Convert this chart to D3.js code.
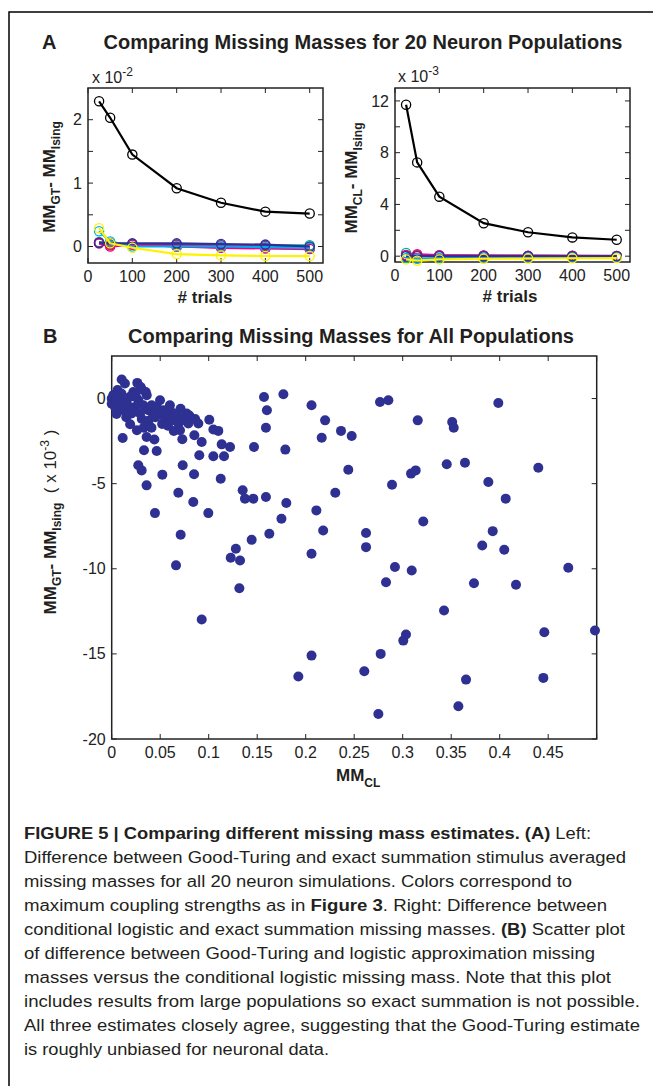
<!DOCTYPE html>
<html><head><meta charset="utf-8">
<script src="https://cdn.jsdelivr.net/npm/d3@7"></script>
<style>body{margin:0;background:#fff}svg{display:block}</style>
</head><body>
<script>
// ---------- DATA ----------
const trials = [25, 50, 100, 200, 300, 400, 500];
const seriesColors = ["#00a99d", "#92278f", "#ed1c24", "#ec008c", "#00aeef", "#2e3192", "#fff200", "#000000"];
// Panel A left: MM_GT - MM_Ising (x 10^-2)
const gtTeal    = [0.07, 0.05, 0.04, 0.03, 0.02, 0.02, 0.02];
const gtPurple  = [0.05, 0.03, 0.04, 0.03, 0.02, 0.01, -0.01];
const gtRed     = [0.06, 0.02, 0.03, 0.00, -0.01, -0.02, -0.03];
const gtMagenta = [0.05, 0.00, 0.03, 0.00, -0.02, -0.03, -0.04];
const gtCyan    = [0.24, 0.08, 0.00, 0.00, 0.00, -0.01, -0.02];
const gtNavy    = [0.06, 0.05, 0.05, 0.05, 0.04, 0.03, 0.00];
const gtYellow  = [0.29, 0.05, -0.02, -0.12, -0.14, -0.15, -0.15];
const gtBlack   = [2.29, 2.03, 1.45, 0.92, 0.69, 0.55, 0.52];
// Panel A right: MM_CL - MM_Ising (x 10^-3)
const clTeal    = [0.25, 0.10, 0.05, 0.03, 0.02, 0.01, 0.01];
const clPurple  = [0.05, 0.05, 0.02, 0.02, 0.01, 0.01, 0.00];
const clRed     = [0.05, 0.10, 0.05, 0.03, 0.02, 0.02, 0.01];
const clMagenta = [0.10, 0.15, 0.08, 0.05, 0.04, 0.03, 0.02];
const clCyan    = [-0.15, -0.20, -0.15, -0.10, -0.08, -0.07, -0.07];
const clNavy    = [0.00, 0.00, 0.00, 0.00, 0.00, 0.00, 0.00];
const clYellow  = [-0.25, -0.35, -0.25, -0.20, -0.18, -0.16, -0.15];
const clBlack   = [11.7, 7.25, 4.6, 2.55, 1.85, 1.45, 1.27];
// Panel B scatter: MM_CL vs MM_GT - MM_Ising (x 10^-3)
const mmCL = [
 0.157,0.177,0.206,0.220,0.160,0.159,0.2165,0.1467,0.179,
 0.1006,0.0893,0.1048,0.1099,0.0852,0.0928,0.0728,0.1134,0.122,0.0903,0.1048,0.1158,0.0732,0.0849,0.1124,0.0333,0.0464,0.0274,0.0309,0.036,0.0522,0.0687,0.0841,0.0996,0.0446,0.0711,0.135,0.1374,0.146,0.159,0.180,0.175,0.1625,0.1443,0.128,0.1227,0.1323,0.206,0.211,0.218,0.0663,
 0.1316,0.0928,0.206,0.1924,
 0.2766,0.2852,0.3986,0.3155,0.351,0.3526,0.2364,0.2474,0.2439,0.3454,0.3642,0.4398,0.3086,0.3134,0.289,0.3883,0.4062,0.2305,0.3212,0.3928,0.2622,0.2622,0.382,0.4047,0.292,0.3093,0.4707,
 0.2828,0.3735,0.4168,0.3426,0.446,0.4982,0.3034,0.3006,0.2773,0.2604,0.3653,0.445,0.3574,0.2749,
 0.0,0.0,0.002,0.0035,0.0052,0.0086,0.0103,0.0136,0.012,0.0155,0.0189,0.0206,0.0223,0.0264,0.0299,0.024,0.0275,0.0292,0.0326,0.0351,0.0361,0.0378,0.0412,0.0429,0.0464,0.0498,0.0498,0.0533,0.055,0.0567,0.0601,0.0618,0.0636,0.067,0.0687,0.0704,0.0722,0.0756,0.0773,0.079,
 0.005,0.008,0.015,0.018,0.031,0.038,0.045,0.052,0.058,0.064,0.0113,0.019,0.026,0.033,0.041,0.036,0.044,0.0017,0.005,0.0034,0.031,0.0215,0.014,0.010,0.006,0.025,0.060,0.071,0.080,0.086
];
const dMM = [
 0.09,0.25,-0.39,-1.28,-0.69,-1.71,-2.3,-2.85,-3.0,
 -1.24,-1.47,-1.82,-1.9,-2.16,-2.55,-2.39,-2.69,-2.85,-3.33,-3.39,-3.39,-3.92,-4.45,-4.71,-3.04,-3.08,-3.92,-4.22,-5.1,-4.47,-5.53,-6.08,-6.73,-6.73,-8.0,-5.39,-5.88,-5.88,-5.78,-6.14,-7.06,-7.94,-8.3,-8.82,-9.35,-9.51,-9.12,-6.57,-7.75,-9.8,
 -11.14,-12.98,-15.1,-16.33,
 -0.2,-0.1,-0.26,-1.28,-1.38,-1.71,-1.9,-2.2,-4.18,-3.86,-3.77,-4.06,-4.41,-4.22,-5.06,-4.9,-5.88,-5.53,-7.22,-7.79,-7.9,-8.73,-8.63,-8.88,-9.9,-10.1,-9.94,
 -10.79,-10.85,-10.94,-12.45,-13.73,-13.63,-13.86,-14.22,-15.0,-16.02,-16.51,-16.41,-18.08,-18.53,
 0.0,-0.3,0.2,0.2,-0.49,0.0,1.12,0.88,-0.69,-0.3,0.1,-0.88,0.39,0.92,0.68,-0.49,-0.1,-0.88,-0.39,0.39,0.2,-0.69,-0.39,-0.98,-0.49,-0.1,-0.88,-0.69,-1.18,-0.88,-0.69,-1.28,-1.08,-0.88,-1.47,-1.86,-1.18,-1.28,-0.88,-1.47,
 -0.9,-0.2,-1.1,-0.5,-1.2,-1.3,-1.1,-1.5,-1.6,-1.9,-2.32,-1.51,-1.86,-1.72,-1.72,-2.26,-2.41,0.19,-0.1,-0.49,0.53,0.15,-0.2,0.3,0.5,0.1,-0.4,-0.6,-1.0,-1.2
];
const aLeftYTicks = [0, 0.5, 1, 1.5, 2];
const aLeftYLabels = [0, 1, 2];
const aRightYTicks = [0, 2, 4, 6, 8, 10, 12];
const aRightYLabels = [0, 4, 8, 12];
const aXTicks = [0, 100, 200, 300, 400, 500];
const bXTicks = [0, 0.05, 0.1, 0.15, 0.2, 0.25, 0.3, 0.35, 0.4, 0.45, 0.5];
const bXLabels = [0, 0.05, 0.1, 0.15, 0.2, 0.25, 0.3, 0.35, 0.4, 0.45];
const bYTicks = [0, -5, -10, -15, -20];
const captionLines = [
 [["FIGURE 5 | Comparing different missing mass estimates. (A)", true], [" Left:", false]],
 [["Difference between Good-Turing and exact summation stimulus averaged", false]],
 [["missing masses for all 20 neuron simulations. Colors correspond to", false]],
 [["maximum coupling strengths as in ", false], ["Figure 3", true], [". Right: Difference between", false]],
 [["conditional logistic and exact summation missing masses. ", false], ["(B)", true], [" Scatter plot", false]],
 [["of difference between Good-Turing and logistic approximation missing", false]],
 [["masses versus the conditional logistic missing mass. Note that this plot", false]],
 [["includes results from large populations so exact summation is not possible.", false]],
 [["All three estimates closely agree, suggesting that the Good-Turing estimate", false]],
 [["is roughly unbiased for neuronal data.", false]]
];
const captionWidths = [567, 602, 548, 583, 601, 571, 587, 616, 616, 305];

// ---------- DRAW ----------
const FONT = "'Liberation Sans', Arial, Helvetica, sans-serif";
const W = 653, H = 1086;
const svg = d3.select("body").append("svg").attr("width", W).attr("height", H)
  .attr("font-family", FONT);
svg.append("rect").attr("width", W).attr("height", H).attr("fill", "#fff");
// frame
svg.append("path").attr("d", `M9,${H} V12 H${W}`).attr("fill", "none").attr("stroke", "#000").attr("stroke-width", 1.5);

function box(x, y, xTicks, xLabels, yTicks, yLabels, xFmt, yFmt) {
  const g = svg.append("g");
  const [x0, x1] = x.range(), [y0, y1] = y.range();
  const TL = 5;
  const tk = g.append("g").attr("stroke", "#222").attr("stroke-width", 1);
  xTicks.forEach(t => {
    const px = x(t);
    tk.append("line").attr("x1", px).attr("x2", px).attr("y1", y0).attr("y2", y0 - TL);
    tk.append("line").attr("x1", px).attr("x2", px).attr("y1", y1).attr("y2", y1 + TL);
  });
  yTicks.forEach(t => {
    const py = y(t);
    tk.append("line").attr("x1", x0).attr("x2", x0 + TL).attr("y1", py).attr("y2", py);
    tk.append("line").attr("x1", x1).attr("x2", x1 - TL).attr("y1", py).attr("y2", py);
  });
  g.append("rect").attr("x", x0).attr("y", y1).attr("width", x1 - x0).attr("height", y0 - y1)
    .attr("fill", "none").attr("stroke", "#222").attr("stroke-width", 1.5);
  g.selectAll("text.xl").data(xLabels).join("text").attr("class", "xl")
    .attr("x", d => x(d)).attr("y", y0 + 19).attr("text-anchor", "middle")
    .attr("font-size", 16).attr("fill", "#222").text(xFmt);
  g.selectAll("text.yl").data(yLabels).join("text").attr("class", "yl")
    .attr("x", x0 - 6).attr("y", d => y(d)).attr("dy", "0.35em").attr("text-anchor", "end")
    .attr("font-size", 16).attr("fill", "#222").text(yFmt);
  return g;
}

function lines(x, y, arrs) {
  const line = d3.line().x((d, i) => x(trials[i])).y(d => y(d));
  arrs.forEach((arr, k) => {
    const c = seriesColors[k];
    svg.append("path").attr("d", line(arr)).attr("fill", "none").attr("stroke", c).attr("stroke-width", 2.2);
    svg.selectAll(null).data(arr).join("circle")
      .attr("cx", (d, i) => x(trials[i])).attr("cy", d => y(d)).attr("r", 4.6)
      .attr("fill", "none").attr("stroke", c).attr("stroke-width", 1.3);
  });
}

// Panel A left
const xAL = d3.scaleLinear().domain([0, 530]).range([88, 323]);
const yAL = d3.scaleLinear().domain([-0.26, 2.5]).range([263, 88]);
box(xAL, yAL, aXTicks, aXTicks, aLeftYTicks, aLeftYLabels, d => d, d => d);
lines(xAL, yAL, [gtTeal, gtPurple, gtRed, gtMagenta, gtCyan, gtNavy, gtYellow, gtBlack]);

// Panel A right
const xAR = d3.scaleLinear().domain([0, 530]).range([395, 630]);
const yAR = d3.scaleLinear().domain([-0.45, 13]).range([262, 88]);
box(xAR, yAR, aXTicks, aXTicks, aRightYTicks, aRightYLabels, d => d, d => d);
lines(xAR, yAR, [clTeal, clPurple, clRed, clMagenta, clCyan, clNavy, clYellow, clBlack]);

// Panel B
const xB = d3.scaleLinear().domain([0, 0.5]).range([111.7, 596.7]);
const yB = d3.scaleLinear().domain([-20, 2.5]).range([739, 356]);
box(xB, yB, bXTicks, bXLabels, bYTicks, bYTicks, d => d === 0 ? "0" : String(d), d => d);
svg.append("g").selectAll("circle").data(mmCL).join("circle")
  .attr("cx", d => xB(d)).attr("cy", (d, i) => yB(dMM[i])).attr("r", 5)
  .attr("fill", "#2e3192");

// Titles
function bold(x, y, s, size, anchor) {
  return svg.append("text").attr("x", x).attr("y", y).attr("font-size", size)
    .attr("font-weight", "bold").attr("fill", "#231f20").attr("text-anchor", anchor || "start").text(s);
}
bold(42, 49, "A", 20);
bold(363, 49, "Comparing Missing Masses for 20 Neuron Populations", 20, "middle");
bold(43, 343, "B", 20);
bold(351, 343, "Comparing Missing Masses for All Populations", 20, "middle");

// exponent labels
function expo(x, y, p) {
  const t = svg.append("text").attr("x", x).attr("y", y).attr("font-size", 16).attr("fill", "#222");
  t.append("tspan").text("x 10");
  t.append("tspan").attr("dy", -7).attr("font-size", 12).text(p);
}
expo(92, 83, "-2");
expo(398, 82, "-3");

// axis labels
function yLabel(x, y, parts) {
  const t = svg.append("text").attr("transform", `translate(${x},${y}) rotate(-90)`)
    .attr("text-anchor", "middle").attr("font-size", 17).attr("font-weight", "bold").attr("fill", "#231f20");
  t.append("tspan").text(parts[0]);
  t.append("tspan").attr("dy", 5).attr("font-size", 12).text(parts[1]);
  t.append("tspan").attr("dy", -5).text(parts[2]);
  t.append("tspan").attr("dy", 5).attr("font-size", 12).text(parts[3]);
  return t;
}
yLabel(55, 177, ["MM", "GT", "- MM", "Ising"]);
yLabel(357, 178, ["MM", "CL", "- MM", "Ising"]);
{
  const t = svg.append("text").attr("transform", `translate(56,522) rotate(-90)`)
    .attr("text-anchor", "middle").attr("font-size", 17).attr("font-weight", "bold").attr("fill", "#231f20");
  t.append("tspan").text("MM");
  t.append("tspan").attr("dy", 5).attr("font-size", 12).text("GT");
  t.append("tspan").attr("dy", -5).text("- MM");
  t.append("tspan").attr("dy", 5).attr("font-size", 12).text("Ising");
  t.append("tspan").attr("dy", -5).attr("font-weight", "normal").text("\u00a0\u00a0( x 10");
  t.append("tspan").attr("dy", -7).attr("font-size", 12).attr("font-weight", "normal").text("-3");
  t.append("tspan").attr("dy", 7).attr("font-weight", "normal").text(" )");
}
bold(205, 303, "# trials", 17, "middle");
bold(510, 302, "# trials", 17, "middle");
{
  const t = svg.append("text").attr("x", 336).attr("y", 781).attr("font-size", 17)
    .attr("font-weight", "bold").attr("fill", "#231f20");
  t.append("tspan").text("MM");
  t.append("tspan").attr("dy", 6).attr("font-size", 12).text("CL");
}

// Caption
captionLines.forEach((parts, i) => {
  const t = svg.append("text").attr("x", 24).attr("y", 839 + 24 * i).attr("font-size", 16)
    .attr("fill", "#231f20").attr("textLength", captionWidths[i]).attr("lengthAdjust", "spacingAndGlyphs")
    .attr("xml:space", "preserve");
  parts.forEach(([s, b]) => t.append("tspan").attr("font-weight", b ? "bold" : "normal").text(s));
});
</script>
</body></html>
